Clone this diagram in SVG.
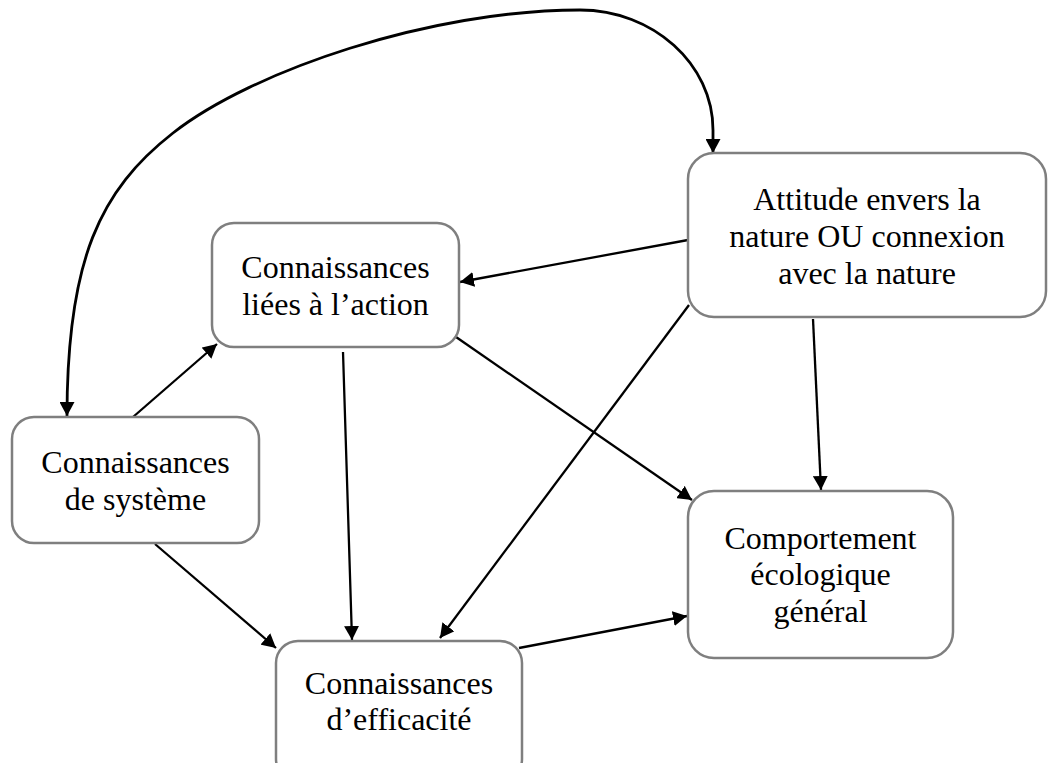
<svg xmlns="http://www.w3.org/2000/svg" width="1049" height="763" viewBox="0 0 1049 763">
  <style>
    .box { fill: #ffffff; stroke: #7f7f7f; stroke-width: 2.5; }
    .lbl { font-family: "Liberation Serif", "Times New Roman", serif; font-size: 32px; fill: #000000; text-anchor: middle; }
    .edge { fill: none; stroke: #000000; stroke-width: 2.3; marker-end: url(#arrow); }
    .curve { fill: none; stroke: #000000; stroke-width: 2.8; marker-end: url(#arrow); marker-start: url(#arrowStart); }
  </style>
  <defs>
    <marker id="arrow" markerUnits="userSpaceOnUse" markerWidth="15" markerHeight="15" refX="14" refY="7.5" orient="auto">
      <path d="M0,0 L14,7.5 L0,15 Z" fill="#000000"/>
    </marker>
    <marker id="arrowStart" markerUnits="userSpaceOnUse" markerWidth="15" markerHeight="15" refX="14" refY="7.5" orient="auto-start-reverse">
      <path d="M0,0 L14,7.5 L0,15 Z" fill="#000000"/>
    </marker>
  </defs>
  <rect width="1049" height="763" fill="#ffffff"/>

  <g id="connectors">
    <path class="curve" d="M67,416 C67,260 100,190 173,133 C252,71 430,10 580,10 C653,10 713,64 713,130 L713,153"/>
    <line class="edge" x1="688" y1="240" x2="460" y2="282"/>
    <line class="edge" x1="133" y1="417" x2="217" y2="344"/>
    <line class="edge" x1="343" y1="352" x2="352" y2="640"/>
    <line class="edge" x1="456" y1="337" x2="692" y2="500"/>
    <line class="edge" x1="689" y1="305" x2="440" y2="638"/>
    <line class="edge" x1="813" y1="319" x2="821" y2="490"/>
    <line class="edge" x1="155" y1="544" x2="276" y2="648"/>
    <line class="edge" x1="519" y1="648" x2="687" y2="616"/>
  </g>

  <g id="node-liees">
    <rect class="box" x="212" y="223" width="247" height="124" rx="22" ry="22"/>
    <text class="lbl" x="335.5" y="278">Connaissances</text>
    <text class="lbl" x="335.5" y="315">liées à l’action</text>
  </g>

  <g id="node-attitude">
    <rect class="box" x="688" y="153" width="358" height="164" rx="26" ry="26"/>
    <text class="lbl" x="867" y="210">Attitude envers la</text>
    <text class="lbl" x="867" y="247">nature OU connexion</text>
    <text class="lbl" x="867" y="284">avec la nature</text>
  </g>

  <g id="node-systeme">
    <rect class="box" x="12" y="417" width="247" height="126" rx="22" ry="22"/>
    <text class="lbl" x="135.5" y="472.5">Connaissances</text>
    <text class="lbl" x="135.5" y="509.5">de système</text>
  </g>

  <g id="node-comportement">
    <rect class="box" x="688" y="491" width="265" height="167" rx="26" ry="26"/>
    <text class="lbl" x="820.5" y="549">Comportement</text>
    <text class="lbl" x="820.5" y="585">écologique</text>
    <text class="lbl" x="820.5" y="622">général</text>
  </g>

  <g id="node-efficacite">
    <rect class="box" x="276" y="641" width="246" height="140" rx="22" ry="22"/>
    <text class="lbl" x="399" y="694">Connaissances</text>
    <text class="lbl" x="399" y="730">d’efficacité</text>
  </g>
</svg>
